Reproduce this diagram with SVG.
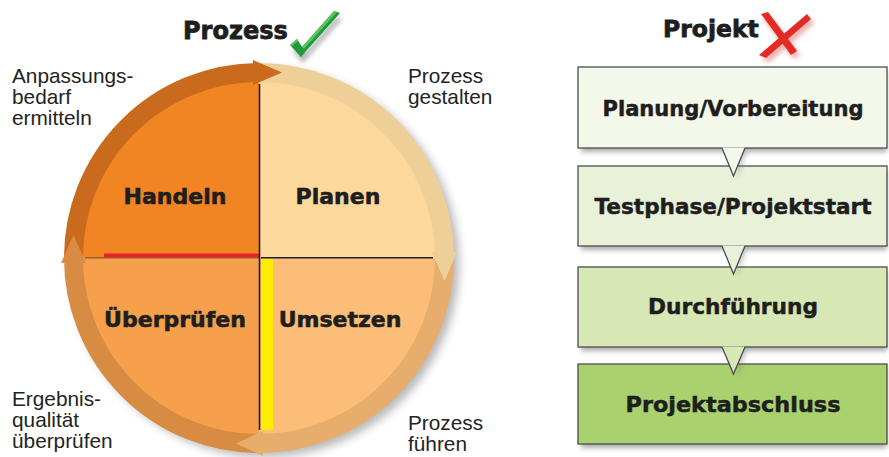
<svg xmlns="http://www.w3.org/2000/svg" width="889" height="457" viewBox="0 0 889 457">
  <defs>
    <filter id="soft" x="-20%" y="-20%" width="140%" height="140%">
      <feGaussianBlur stdDeviation="5"/>
    </filter>
    <filter id="boxShadow" x="-10%" y="-20%" width="120%" height="150%">
      <feGaussianBlur stdDeviation="2.5"/>
    </filter>
    <filter id="markShadow" x="-50%" y="-50%" width="200%" height="200%">
      <feGaussianBlur stdDeviation="2.5"/>
    </filter>
    <style>
      .title { font-family: "DejaVu Sans", "Liberation Sans", sans-serif; font-weight: bold; font-size: 24px; fill: #1e1e1e; stroke: #1e1e1e; stroke-width: 0.8; }
      .quad  { font-family: "DejaVu Sans", "Liberation Sans", sans-serif; font-weight: bold; font-size: 22px; fill: #1e1e1e; stroke: #1e1e1e; stroke-width: 0.6; text-anchor: middle; }
      .step  { font-family: "DejaVu Sans", "Liberation Sans", sans-serif; font-weight: bold; font-size: 21.5px; fill: #1e1e1e; stroke: #1e1e1e; stroke-width: 0.5; text-anchor: middle; }
      .note  { font-family: "Liberation Sans", Arial, sans-serif; font-size: 20.8px; fill: #232323; }
      .ring  { fill: none; stroke-width: 19; }
      .box   { stroke: #4d4d4d; stroke-width: 1.3; }
      .ptr   { stroke: #4d4d4d; stroke-width: 1.3; stroke-linejoin: miter; }
      .shadow { fill: #6b6b6b; opacity: 0.55; filter: url(#boxShadow); }
    </style>
  </defs>

  <rect width="889" height="457" fill="#ffffff"/>

  <!-- Titles -->
  <g id="title-prozess">
    <text class="title" x="183" y="39">Prozess</text>
    <!-- green check mark -->
    <path d="M292,48 L299,42 L304,50 L335,14 L341,16 L307,54 L302,60 Z" fill="#555" opacity="0.45" filter="url(#markShadow)" transform="translate(1,3)"/>
    <path d="M290,45 L297,39 L302,47 L334,11 L340,13 L306,51 L301,57 Z" fill="#1f9a3b"/>
    <path d="M302,47 L334,11 L337,12 L304,49 Z" fill="#5cc45e"/>
    <path d="M290,45 L297,39 L298,41 L292,46 Z" fill="#5cc45e"/>
  </g>
  <g id="title-projekt">
    <text class="title" x="663" y="37" style="font-size:23.5px">Projekt</text>
    <!-- red cross -->
    <g opacity="0.45" filter="url(#markShadow)" transform="translate(2,3)">
      <path d="M761,15 L768,13 L798,52 L792,56 Z" fill="#d2403a"/>
      <path d="M808,15 L812,20 L767,59 L760,56 Z" fill="#d2403a"/>
    </g>
    <path d="M761,14 L768,12 L797,51 L791,55 Z" fill="#e32a25"/>
    <path d="M807,14 L811,19 L766,58 L759,55 Z" fill="#e32a25"/>
  </g>

  <!-- Circle drop shadow -->
  <circle cx="265" cy="263" r="194" fill="#000" opacity="0.28" filter="url(#soft)"/>

  <!-- Quadrants -->
  <g id="handeln">
    <path d="M259,258 L69,258 A190,190 0 0 1 259,68 Z" fill="#f18423"/>
    <text class="quad" x="175" y="204">Handeln</text>
  </g>
  <g id="planen">
    <path d="M259,258 L259,68 A190,190 0 0 1 449,258 Z" fill="#fcd89d"/>
    <text class="quad" x="338" y="204">Planen</text>
  </g>
  <g id="umsetzen">
    <path d="M259,258 L449,258 A190,190 0 0 1 259,448 Z" fill="#fbbd78"/>
    <text class="quad" x="340" y="327">Umsetzen</text>
  </g>
  <g id="ueberpruefen">
    <path d="M259,258 L259,448 A190,190 0 0 1 69,258 Z" fill="#f6a04b"/>
    <text class="quad" x="175" y="327">Überprüfen</text>
  </g>

  <!-- Dividers -->
  <g id="dividers">
    <line x1="85" y1="257.8" x2="259" y2="257.8" stroke="#7a5a3a" stroke-width="1.3"/>
    <rect x="104" y="253.5" width="155" height="4" fill="#e8222a"/>
    <line x1="261" y1="257.8" x2="433" y2="257.8" stroke="#222" stroke-width="1.6"/>
    <line x1="259.5" y1="84" x2="259.5" y2="430" stroke="#222" stroke-width="1.6"/>
    <rect x="261" y="259" width="12" height="171" fill="#ffed00"/>
  </g>

  <!-- Cycle ring and arrowheads -->
  <g id="connectors">
    <path class="ring" d="M259,72.5 A185.5,185.5 0 0 1 444.5,258" stroke="#efcf98"/>
    <path class="ring" d="M444.5,258 A185.5,185.5 0 0 1 259,443.5" stroke="#e6ad6c"/>
    <path class="ring" d="M259,443.5 A185.5,185.5 0 0 1 73.5,258" stroke="#d88b43"/>
    <path class="ring" d="M73.5,258 A185.5,185.5 0 0 1 256,72.5" stroke="#c96a1d"/>
    <polygon points="253,60 282,72.5 253,85" fill="#c96a1d"/>
    <polygon points="432,252 444.5,281 457,252" fill="#efcf98"/>
    <polygon points="263,431 236,443.5 263,456" fill="#e6ad6c"/>
    <polygon points="61,263 73.5,235 86,263" fill="#d88b43"/>
  </g>

  <!-- Cycle notes -->
  <g id="note-anpassung">
    <text class="note" x="12" y="83">Anpassungs-</text>
    <text class="note" x="12" y="104">bedarf</text>
    <text class="note" x="12" y="125">ermitteln</text>
  </g>
  <g id="note-gestalten">
    <text class="note" x="408" y="83">Prozess</text>
    <text class="note" x="408" y="104">gestalten</text>
  </g>
  <g id="note-ergebnis">
    <text class="note" x="12" y="406">Ergebnis-</text>
    <text class="note" x="12" y="427">qualität</text>
    <text class="note" x="12" y="448">überprüfen</text>
  </g>
  <g id="note-fuehren">
    <text class="note" x="408" y="430">Prozess</text>
    <text class="note" x="408" y="451">führen</text>
  </g>

  <!-- Project phases -->
  <g id="phase-1">
    <rect class="shadow" x="581" y="71" width="306" height="81"/>
    <rect class="box" x="578" y="67" width="309" height="81" fill="#f4f8ea"/>
    <text class="step" x="733" y="115.5" textLength="261" lengthAdjust="spacingAndGlyphs">Planung/Vorbereitung</text>
  </g>
  <g id="phase-2">
    <rect class="shadow" x="581" y="170" width="306" height="80"/>
    <rect class="box" x="578" y="166" width="309" height="80" fill="#e9f1d8"/>
    <text class="step" x="733" y="214" textLength="277" lengthAdjust="spacingAndGlyphs">Testphase/Projektstart</text>
  </g>
  <g id="phase-3">
    <rect class="shadow" x="581" y="271" width="306" height="80"/>
    <rect class="box" x="578" y="267" width="309" height="80" fill="#d7e8b5"/>
    <text class="step" x="733" y="314" textLength="170" lengthAdjust="spacingAndGlyphs">Durchführung</text>
  </g>
  <g id="phase-4">
    <rect class="shadow" x="581" y="368" width="306" height="80"/>
    <rect class="box" x="578" y="364" width="309" height="80" fill="#a9d16d"/>
    <text class="step" x="733" y="412" textLength="215" lengthAdjust="spacingAndGlyphs">Projektabschluss</text>
  </g>

  <!-- Pointers from one phase into the next -->
  <g id="phase-pointers">
    <path d="M736,150 L747,150 L738,178 Z" fill="#666" opacity="0.35" filter="url(#markShadow)"/>
    <path d="M722,147.4 L733.5,176 L745,147.4 Z" fill="#f4f8ea"/>
    <path class="ptr" d="M722,148 L733.5,176 L745,148" fill="none"/>

    <path d="M736,248 L747,248 L738,276 Z" fill="#666" opacity="0.35" filter="url(#markShadow)"/>
    <path d="M722,245.4 L733.5,274 L745,245.4 Z" fill="#e9f1d8"/>
    <path class="ptr" d="M722,246 L733.5,274 L745,246" fill="none"/>

    <path d="M736,349 L747,349 L738,377 Z" fill="#666" opacity="0.35" filter="url(#markShadow)"/>
    <path d="M722,346.4 L733.5,374 L745,346.4 Z" fill="#d7e8b5"/>
    <path class="ptr" d="M722,347 L733.5,374 L745,347" fill="none"/>
  </g>
</svg>
